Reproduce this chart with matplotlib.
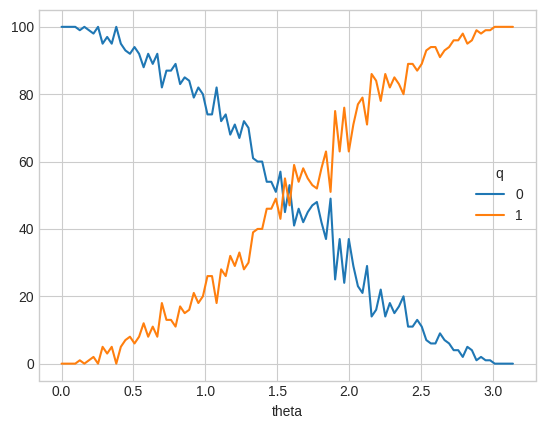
import numpy as np
import pandas as pd
import matplotlib
matplotlib.use('Agg')
from matplotlib import pyplot as plt

# counts per outcome, 100 theta steps from 0 to pi
q0 = [100, 100, 100, 100, 99, 100, 99, 98, 100, 95,
      97, 95, 100, 95, 93, 92, 94, 92, 88, 92,
      89, 92, 82, 87, 87, 89, 83, 85, 84, 79,
      82, 80, 74, 74, 82, 72, 74, 68, 71, 67,
      72, 70, 61, 60, 60, 54, 54, 51, 57, 45,
      53, 41, 46, 42, 45, 47, 48, 42, 37, 49,
      25, 37, 24, 37, 29, 23, 21, 29, 14, 16,
      22, 14, 18, 15, 17, 20, 11, 11, 13, 11,
      7, 6, 6, 9, 7, 6, 4, 4, 2, 5,
      4, 1, 2, 1, 1, 0, 0, 0, 0, 0]
q1 = [0, 0, 0, 0, 1, 0, 1, 2, 0, 5,
      3, 5, 0, 5, 7, 8, 6, 8, 12, 8,
      11, 8, 18, 13, 13, 11, 17, 15, 16, 21,
      18, 20, 26, 26, 18, 28, 26, 32, 29, 33,
      28, 30, 39, 40, 40, 46, 46, 49, 43, 55,
      47, 59, 54, 58, 55, 53, 52, 58, 63, 51,
      75, 63, 76, 63, 71, 77, 79, 71, 86, 84,
      78, 86, 82, 85, 83, 80, 89, 89, 87, 89,
      93, 94, 94, 91, 93, 94, 96, 96, 98, 95,
      96, 99, 98, 99, 99, 100, 100, 100, 100, 100]
theta = np.linspace(0, np.pi, len(q0))

plt.style.use('seaborn-v0_8-whitegrid')
plt.rcParams['font.family'] = ['Liberation Sans', 'DejaVu Sans']

df = pd.DataFrame({'0': q0, '1': q1}, index=theta)
df.index.name = 'theta'
df.columns.name = 'q'

fig = plt.figure(figsize=(5.44, 4.26), dpi=100)
ax = fig.add_subplot(111)
df.plot(ax=ax)
ax.legend(title='q', loc='center right')
ax.set_xticks([0.0, 0.5, 1.0, 1.5, 2.0, 2.5, 3.0])
ax.set_yticks([0, 20, 40, 60, 80, 100])

fig.subplots_adjust(left=39 / 544, right=535.5 / 544, top=1 - 10 / 426, bottom=1 - 380.5 / 426)
fig.savefig('out.png', dpi=100)
